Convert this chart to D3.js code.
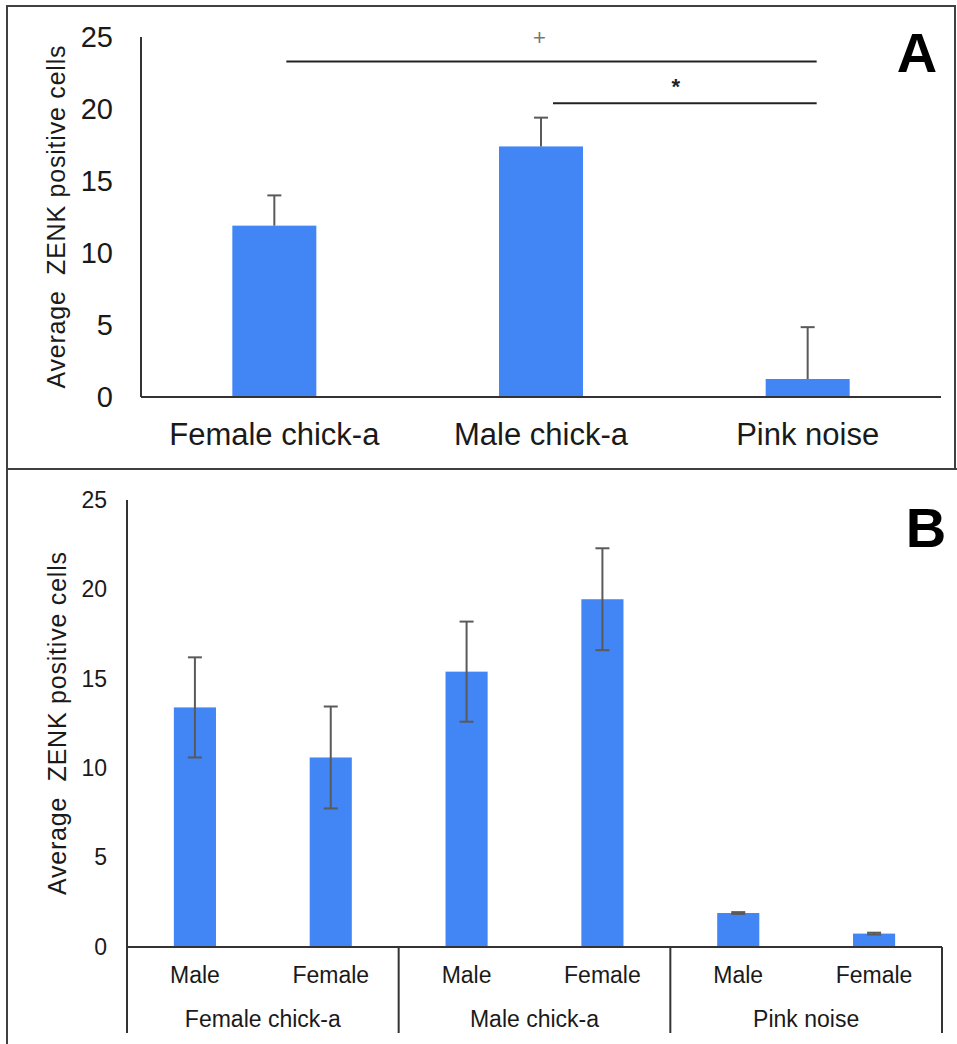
<!DOCTYPE html>
<html>
<head>
<meta charset="utf-8">
<script src="https://cdn.jsdelivr.net/npm/d3@7"></script>
<style>
  body { margin: 0; background: #fff; }
  svg { display: block; font-family: "Liberation Sans", Arial, sans-serif; }
</style>
</head>
<body>
<svg id="chart" width="957" height="1044"></svg>
<script>
// panel A: pooled by stimulus
const groupsA = ["Female chick-a", "Male chick-a", "Pink noise"];
const meansA = [11.9, 17.4, 1.25];
const errA = [2.1, 2.0, 3.6];
// significance brackets: [from, to, level, symbol]
const brackets = [
  ["Female chick-a", "Pink noise", 23.3, "+"],
  ["Male chick-a", "Pink noise", 20.4, "*"]
];

// panel B: split by sex of listener
const groupsB = ["Female chick-a", "Male chick-a", "Pink noise"];
const sexes = ["Male", "Female"];
const meansB = [13.4, 10.6, 15.4, 19.45, 1.9, 0.75];
const errB = [2.8, 2.85, 2.8, 2.85, 0.05, 0.05];

const yTicks = [0, 5, 10, 15, 20, 25];
const yTitle = "Average\u00a0\u00a0ZENK positive cells";

const BLUE = "#4285f4";
const AXIS = "#333";
const ERR = "#5a5a5a";
const TXT = "#1a1a1a";

const svg = d3.select("#chart");

// frames
svg.append("rect").attr("x", 7).attr("y", 6).attr("width", 948).attr("height", 463)
  .attr("fill", "none").attr("stroke", "#404040").attr("stroke-width", 2);
svg.append("path").attr("d", "M7,1044V469H957")
  .attr("fill", "none").attr("stroke", "#404040").attr("stroke-width", 2);

// ---------- panel A ----------
{
  const x = d3.scaleBand().domain(groupsA).range([141, 941]);
  const y = d3.scaleLinear().domain([0, 25]).range([397, 37]);
  const bw = x.bandwidth() * 0.315;
  const g = svg.append("g");

  const yAxis = g.append("g").attr("transform", "translate(141,0)")
    .call(d3.axisLeft(y).tickValues(yTicks).tickSize(0).tickPadding(28));
  yAxis.select(".domain").remove();
  yAxis.selectAll("text").attr("font-size", 29).attr("fill", TXT)
    .attr("font-family", "Liberation Sans, Arial, sans-serif");

  const xAxis = g.append("g").attr("transform", "translate(0,397)")
    .call(d3.axisBottom(x).tickSize(0).tickPadding(26));
  xAxis.select(".domain").remove();
  xAxis.selectAll("text").attr("font-size", 31).attr("fill", TXT)
    .attr("font-family", "Liberation Sans, Arial, sans-serif");

  g.selectAll("rect.bar").data(groupsA).join("rect").attr("class", "bar")
    .attr("x", d => x(d) + x.bandwidth() / 2 - bw / 2)
    .attr("width", bw)
    .attr("y", (d, i) => y(meansA[i]))
    .attr("height", (d, i) => y(0) - y(meansA[i]))
    .attr("fill", BLUE);

  const eb = g.selectAll("g.err").data(groupsA).join("g").attr("class", "err")
    .attr("stroke", ERR).attr("stroke-width", 2);
  eb.append("line")
    .attr("x1", d => x(d) + x.bandwidth() / 2).attr("x2", d => x(d) + x.bandwidth() / 2)
    .attr("y1", (d, i) => y(meansA[i])).attr("y2", (d, i) => y(meansA[i] + errA[i]));
  eb.append("line")
    .attr("x1", d => x(d) + x.bandwidth() / 2 - 7).attr("x2", d => x(d) + x.bandwidth() / 2 + 7)
    .attr("y1", (d, i) => y(meansA[i] + errA[i])).attr("y2", (d, i) => y(meansA[i] + errA[i]));

  // axis lines
  g.append("line").attr("x1", 141).attr("x2", 141).attr("y1", y(25)).attr("y2", y(0))
    .attr("stroke", AXIS).attr("stroke-width", 2);
  g.append("line").attr("x1", 141).attr("x2", 941).attr("y1", y(0)).attr("y2", y(0))
    .attr("stroke", AXIS).attr("stroke-width", 2);

  // brackets
  brackets.forEach(([a, b, lvl, sym]) => {
    const x1 = x(a) + x.bandwidth() / 2 + 12;
    const x2 = x(b) + x.bandwidth() / 2 + 9;
    g.append("line").attr("x1", x1).attr("x2", x2).attr("y1", y(lvl)).attr("y2", y(lvl))
      .attr("stroke", "#222").attr("stroke-width", 2);
    const plus = sym === "+";
    g.append("text").attr("x", (x1 + x2) / 2 - (plus ? 12 : 9))
      .attr("y", y(lvl) - (plus ? 16 : 9))
      .attr("text-anchor", "middle")
      .attr("font-size", plus ? 22 : 22)
      .attr("font-weight", plus ? "normal" : "bold")
      .attr("fill", plus ? "#777" : "#222")
      .text(sym);
  });

  g.append("text").attr("transform", `translate(65,${(y(0) + y(25)) / 2}) rotate(-90)`)
    .attr("text-anchor", "middle").attr("font-size", 25).attr("fill", TXT)
    .attr("textLength", 343).attr("lengthAdjust", "spacing").text(yTitle);

  g.append("text").attr("x", 917).attr("y", 72).attr("text-anchor", "middle")
    .attr("font-size", 56).attr("font-weight", "bold").attr("fill", "#000").text("A");
}

// ---------- panel B ----------
{
  const xg = d3.scaleBand().domain(groupsB).range([127, 942]);
  const xs = d3.scaleBand().domain(sexes).range([0, xg.bandwidth()]);
  const y = d3.scaleLinear().domain([0, 25]).range([947, 500]);
  const bw = xs.bandwidth() * 0.31;
  const g = svg.append("g");

  const rows = [];
  groupsB.forEach((grp, gi) => sexes.forEach((s, si) => {
    const k = gi * sexes.length + si;
    rows.push({ grp, s, v: meansB[k], e: errB[k], cx: xg(grp) + xs(s) + xs.bandwidth() / 2 });
  }));

  const yAxis = g.append("g").attr("transform", "translate(127,0)")
    .call(d3.axisLeft(y).tickValues(yTicks).tickSize(0).tickPadding(20));
  yAxis.select(".domain").remove();
  yAxis.selectAll("text").attr("font-size", 23).attr("fill", TXT)
    .attr("font-family", "Liberation Sans, Arial, sans-serif");

  g.selectAll("rect.bar").data(rows).join("rect").attr("class", "bar")
    .attr("x", d => d.cx - bw / 2).attr("width", bw)
    .attr("y", d => y(d.v)).attr("height", d => y(0) - y(d.v))
    .attr("fill", BLUE);

  const eb = g.selectAll("g.err").data(rows).join("g").attr("class", "err")
    .attr("stroke", ERR).attr("stroke-width", 2);
  eb.append("line").attr("x1", d => d.cx).attr("x2", d => d.cx)
    .attr("y1", d => y(d.v - d.e)).attr("y2", d => y(d.v + d.e));
  eb.append("line").attr("x1", d => d.cx - 7).attr("x2", d => d.cx + 7)
    .attr("y1", d => y(d.v + d.e)).attr("y2", d => y(d.v + d.e));
  eb.append("line").attr("x1", d => d.cx - 7).attr("x2", d => d.cx + 7)
    .attr("y1", d => y(d.v - d.e)).attr("y2", d => y(d.v - d.e));

  // sex labels
  g.selectAll("text.sex").data(rows).join("text").attr("class", "sex")
    .attr("x", d => d.cx).attr("y", 983).attr("text-anchor", "middle")
    .attr("font-size", 23).attr("fill", TXT).text(d => d.s);
  // group labels
  g.selectAll("text.grp").data(groupsB).join("text").attr("class", "grp")
    .attr("x", d => xg(d) + xg.bandwidth() / 2).attr("y", 1027).attr("text-anchor", "middle")
    .attr("font-size", 23).attr("fill", TXT).text(d => d);

  // axes and group dividers
  g.append("line").attr("x1", 127).attr("x2", 127).attr("y1", y(25)).attr("y2", 1033)
    .attr("stroke", AXIS).attr("stroke-width", 2);
  g.append("line").attr("x1", 127).attr("x2", 942).attr("y1", y(0)).attr("y2", y(0))
    .attr("stroke", AXIS).attr("stroke-width", 2);
  g.selectAll("line.div").data(groupsB).join("line").attr("class", "div")
    .attr("x1", d => xg(d) + xg.bandwidth()).attr("x2", d => xg(d) + xg.bandwidth())
    .attr("y1", y(0)).attr("y2", 1033)
    .attr("stroke", AXIS).attr("stroke-width", 2);

  g.append("text").attr("transform", `translate(66,${(y(0) + y(25)) / 2}) rotate(-90)`)
    .attr("text-anchor", "middle").attr("font-size", 25).attr("fill", TXT)
    .attr("textLength", 343).attr("lengthAdjust", "spacing").text(yTitle);

  g.append("text").attr("x", 926).attr("y", 547).attr("text-anchor", "middle")
    .attr("font-size", 56).attr("font-weight", "bold").attr("fill", "#000").text("B");
}
</script>
</body>
</html>
